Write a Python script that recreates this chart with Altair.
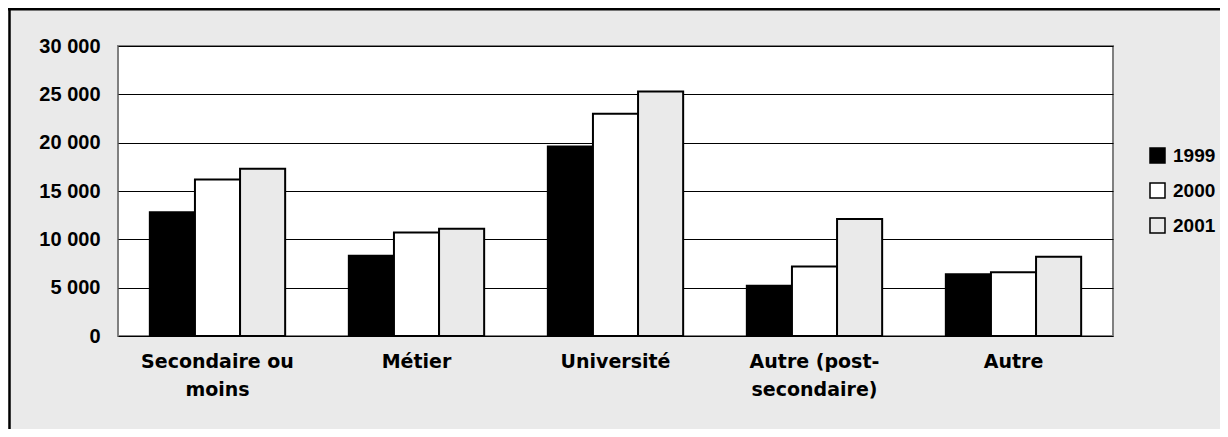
import altair as alt
import pandas as pd

categories = ["Secondaire ou\nmoins", "Métier", "Université", "Autre (post-\nsecondaire)", "Autre"]
years = ["1999", "2000", "2001"]
v1999 = [12800, 8300, 19600, 5200, 6400]
v2000 = [16200, 10700, 23000, 7200, 6600]
v2001 = [17300, 11100, 25300, 12100, 8200]
y_ticks = [0, 5000, 10000, 15000, 20000, 25000, 30000]
fill_colors = ["#000000", "#ffffff", "#eaeaea"]

rows = []
for yr, vals in zip(years, [v1999, v2000, v2001]):
    for c, v in zip(categories, vals):
        rows.append({"cat": c, "year": yr, "value": v})
df = pd.DataFrame(rows)

FONT = "DejaVu Sans"
FONT2 = "Liberation Sans"

bars = alt.Chart(df).mark_bar(stroke="black", strokeWidth=2).encode(
    x=alt.X(
        "cat:N",
        sort=categories,
        scale=alt.Scale(paddingInner=0.32, paddingOuter=0.16),
        axis=alt.Axis(
            title=None, labelAngle=0, labelExpr="split(datum.label, '\\n')",
            labelFont=FONT, labelFontWeight="bold", labelFontSize=19, labelColor="black",
            labelPadding=16, labelLineHeight=28, ticks=False, domain=False,
            labelBaseline="top",
        ),
    ),
    xOffset=alt.XOffset("year:N", sort=years, scale=alt.Scale(paddingInner=0, paddingOuter=0)),
    y=alt.Y(
        "value:Q",
        scale=alt.Scale(domain=[0, 30000], nice=False),
        axis=alt.Axis(
            title=None, values=y_ticks,
            labelExpr="replace(format(datum.value, ',d'), ',', ' ')",
            grid=True, gridColor="black", gridWidth=1, ticks=False, domain=False,
            labelFont=FONT2, labelFontWeight="bold", labelFontSize=20, labelColor="black",
            labelPadding=18,
        ),
    ),
    fill=alt.Fill(
        "year:N",
        scale=alt.Scale(domain=years, range=fill_colors),
        legend=alt.Legend(
            title=None, orient="none", legendX=1030, legendY=100,
            symbolType="square", symbolSize=225, symbolStrokeColor="black",
            symbolStrokeWidth=1.5, labelFont=FONT2, labelFontWeight="bold",
            labelFontSize=19, labelColor="black", rowPadding=14, labelOffset=6,
            padding=0,
        ),
    ),
)

frame_df = pd.DataFrame({"k": [0]})
top_rule = alt.Chart(frame_df).mark_rule(color="black", strokeWidth=3).encode(
    x=alt.value(-110), x2=alt.value(1105), y=alt.value(-37)
)
left_rule = alt.Chart(frame_df).mark_rule(color="black", strokeWidth=2.5).encode(
    x=alt.value(-108.5), y=alt.value(-38), y2=alt.value(383)
)

chart = alt.layer(bars, top_rule, left_rule).properties(
    width=995, height=290,
    autosize=alt.AutoSizeParams(type="none"),
    padding={"left": 110, "top": 38, "right": 107, "bottom": 93},
    background="#eaeaea",
).configure_view(
    stroke="#808080", strokeWidth=2, fill="white"
)

chart.save("out.html", embed_options={"renderer": "svg", "actions": False})
